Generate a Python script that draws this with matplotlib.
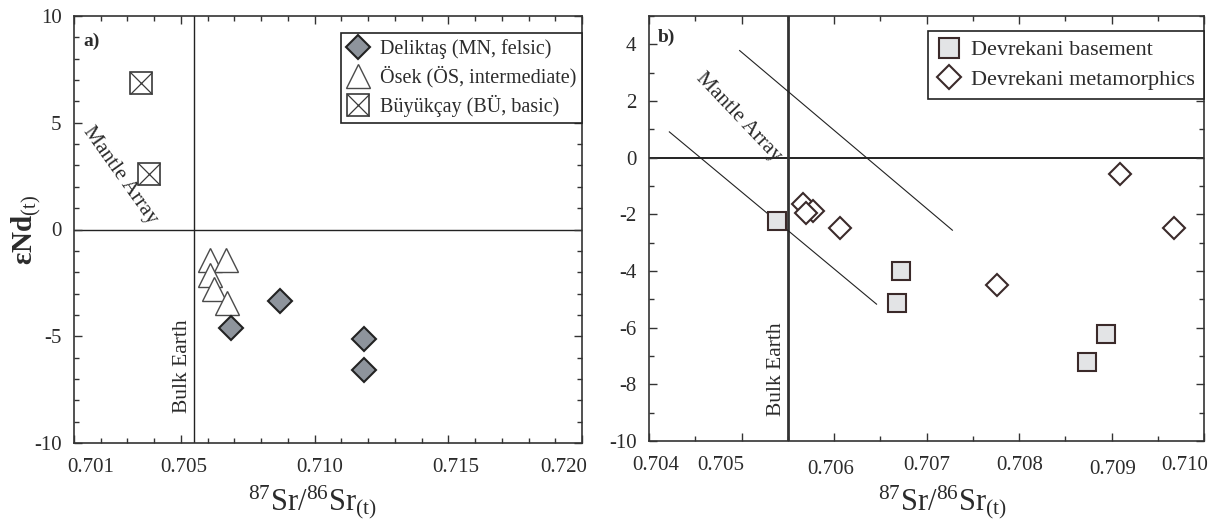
import matplotlib
matplotlib.use("Agg")
import matplotlib.pyplot as plt
import matplotlib.transforms as mtransforms
from matplotlib.legend_handler import HandlerTuple
from matplotlib.ticker import MultipleLocator, FixedLocator

plt.rcParams["font.family"] = ["Liberation Serif", "DejaVu Serif"]
plt.rcParams["mathtext.fontset"] = "custom"
plt.rcParams["mathtext.rm"] = "Liberation Serif"
plt.rcParams["mathtext.it"] = "Liberation Serif:italic"
plt.rcParams["mathtext.bf"] = "Liberation Serif:bold"
plt.rcParams["axes.unicode_minus"] = False

# ---- panel a) data ----
deliktas_sr = [0.70870, 0.70689, 0.71185, 0.71185]
deliktas_nd = [-3.37, -4.60, -5.15, -6.60]
osek_sr = [0.70608, 0.70668, 0.70609, 0.70625, 0.70672]
osek_nd = [-1.45, -1.45, -2.15, -2.80, -3.45]
buyukcay_sr = [0.70349, 0.70382]
buyukcay_nd = [6.84, 2.58]

# ---- panel b) data ----
basement_sr = [0.70538, 0.70672, 0.70668, 0.70894, 0.70874]
basement_nd = [-2.22, -3.99, -5.14, -6.22, -7.20]
meta_sr = [0.70567, 0.70577, 0.70570, 0.70607, 0.70776, 0.70909, 0.70968]
meta_nd = [-1.65, -1.88, -1.95, -2.49, -4.50, -0.59, -2.48]

# mantle array guide lines (panel b), endpoints in data units
mantle_upper_sr = [0.70498, 0.70728]
mantle_upper_nd = [3.78, -2.56]
mantle_lower_sr = [0.70422, 0.70646]
mantle_lower_nd = [0.91, -5.17]

bulk_earth_sr = 0.7055

a_xticks = [0.701, 0.705, 0.710, 0.715, 0.720]
a_xlabels = ["0.701", "0.705", "0.710", "0.715", "0.720"]
a_yticks = [-10, -5, 0, 5, 10]
b_xticks = [0.704, 0.705, 0.706, 0.707, 0.708, 0.709, 0.710]
b_xlabels = ["0.704", "0.705", "0.706", "0.707", "0.708", "0.709", "0.710"]
b_yticks = [-10, -8, -6, -4, -2, 0, 2, 4]

TXT = "#2b2b2b"
SPINE = "#333333"
DARK = "#222222"
BROWN = "#3b2a2a"

fig = plt.figure(figsize=(12.29, 5.26), dpi=100)
ax1 = fig.add_axes([74 / 1229, 83 / 526, 508 / 1229, 427 / 526])
ax2 = fig.add_axes([649 / 1229, 85 / 526, 555 / 1229, 425 / 526])


def style_axes(ax):
    for s in ax.spines.values():
        s.set_color(SPINE)
        s.set_linewidth(1.2)
    ax.tick_params(which="both", direction="in", top=True, right=True,
                   colors=SPINE, labelcolor=TXT, labelsize=15, width=1.0)
    ax.tick_params(which="major", length=6, pad=9)
    ax.tick_params(axis="x", which="major", pad=11)
    ax.tick_params(which="minor", length=3.5)


def shift_xticklabels(ax, offsets):
    for tick, (dx, dy) in zip(ax.xaxis.get_major_ticks(), offsets):
        lab = tick.label1
        lab.set_transform(lab.get_transform() + mtransforms.ScaledTranslation(
            dx / 100, dy / 100, fig.dpi_scale_trans))


# ================= panel a =================
ax1.set_xlim(0.701, 0.720)
ax1.set_ylim(-10, 10)
style_axes(ax1)
ax1.xaxis.set_major_locator(FixedLocator(a_xticks))
ax1.set_xticklabels(a_xlabels)
ax1.xaxis.set_minor_locator(MultipleLocator(0.001))
ax1.set_yticks(a_yticks)
ax1.yaxis.set_minor_locator(MultipleLocator(1))
shift_xticklabels(ax1, [(17, 0), (3, 0), (5, 0), (7, 0), (-18, 0)])

ax1.axhline(0, color=DARK, lw=1.0, zorder=1)
ax1.axvline(bulk_earth_sr, color=DARK, lw=1.0, zorder=1)

h_del, = ax1.plot(deliktas_sr, deliktas_nd, ls="none", marker="D", ms=12,
                  mfc="#8e949c", mec=DARK, mew=1.5, zorder=4)
h_os, = ax1.plot(osek_sr, osek_nd, ls="none", marker="^", ms=17,
                 mfc="white", mec="#4a4a4a", mew=1.0, zorder=3)
h_bu_sq, = ax1.plot(buyukcay_sr, buyukcay_nd, ls="none", marker="s", ms=16,
                    mfc="white", mec="#3a3a3a", mew=1.2, zorder=3)
h_bu_x, = ax1.plot(buyukcay_sr, buyukcay_nd, ls="none", marker="x", ms=16,
                   mec="#3a3a3a", mew=0.9, zorder=4)

ax1.text(0.70272, 2.55, "Mantle Array", rotation=-54.6, ha="center",
         va="center", fontsize=15.5, color=TXT, rotation_mode="anchor")
ax1.text(bulk_earth_sr - 0.00008, -8.6, "Bulk Earth", rotation=90, ha="right",
         va="bottom", fontsize=15.5, color=TXT)
ax1.text(0.018, 0.941, "a)", transform=ax1.transAxes, ha="left", va="center",
         fontsize=14, fontweight="bold", color=TXT)

leg1 = ax1.legend([h_del, h_os, (h_bu_sq, h_bu_x)],
                  ["Deliktaş (MN, felsic)", "Ösek (ÖS, intermediate)",
                   "Büyükçay (BÜ, basic)"],
                  handler_map={tuple: HandlerTuple(ndivide=1)},
                  loc="upper right", bbox_to_anchor=(1.0, 0.960),
                  borderaxespad=0, fancybox=False, framealpha=1,
                  edgecolor=DARK, fontsize=14.5, handlelength=1.1,
                  handletextpad=0.5, labelspacing=0.35, borderpad=0.3,
                  labelcolor=TXT)
leg1.get_frame().set_linewidth(1.2)

ax1.text(-0.0935, 0.5, r"$\mathbf{εNd}_{\mathrm{(t)}}$", transform=ax1.transAxes,
         rotation=90, ha="center", va="center", fontsize=21, color=TXT)
ax1.text(0.4685, -0.094, r"$^{87}\mathrm{Sr}/^{86}\mathrm{Sr}_{\mathrm{(t)}}$",
         transform=ax1.transAxes, ha="center", va="top", fontsize=22, color=TXT)

# ================= panel b =================
ax2.set_xlim(0.704, 0.710)
ax2.set_ylim(-10, 5)
style_axes(ax2)
ax2.xaxis.set_major_locator(FixedLocator(b_xticks))
ax2.set_xticklabels(b_xlabels)
ax2.xaxis.set_minor_locator(MultipleLocator(0.0005))
ax2.set_yticks(b_yticks)
ax2.yaxis.set_minor_locator(MultipleLocator(1))
shift_xticklabels(ax2, [(7, 0), (-21, 0), (-3, -4), (0, 0), (1, 0), (1, -4), (-19, 0)])

ax2.axhline(0, color=DARK, lw=1.4, zorder=1)
ax2.axvline(bulk_earth_sr, color="#333333", lw=2.0, zorder=1)
ax2.plot(mantle_upper_sr, mantle_upper_nd, color=DARK, lw=0.8, zorder=1)
ax2.plot(mantle_lower_sr, mantle_lower_nd, color=DARK, lw=0.8, zorder=1)

h_base, = ax2.plot(basement_sr, basement_nd, ls="none", marker="s", ms=13,
                   mfc="#e3e4e6", mec=BROWN, mew=1.5, zorder=3)
h_meta, = ax2.plot(meta_sr, meta_nd, ls="none", marker="D", ms=11.5,
                   mfc="white", mec=BROWN, mew=1.5, zorder=4)

ax2.text(0.704962, 1.42, "Mantle Array", rotation=-46.5, ha="center",
         va="center", fontsize=15.5, color=TXT, rotation_mode="anchor")
ax2.text(bulk_earth_sr - 0.00002, -9.1, "Bulk Earth", rotation=90, ha="right",
         va="bottom", fontsize=15.5, color=TXT)
ax2.text(0.016, 0.949, "b)", transform=ax2.transAxes, ha="left", va="center",
         fontsize=14, fontweight="bold", color=TXT)

leg2 = ax2.legend([h_base, h_meta],
                  ["Devrekani basement", "Devrekani metamorphics"],
                  loc="upper right", bbox_to_anchor=(1.0, 0.965),
                  borderaxespad=0, fancybox=False, framealpha=1,
                  edgecolor=DARK, fontsize=16, handlelength=1.1,
                  handletextpad=0.45, labelspacing=0.4, borderpad=0.4,
                  markerscale=1.1, labelcolor=TXT)
leg2.get_frame().set_linewidth(1.2)

ax2.text(0.528, -0.099, r"$^{87}\mathrm{Sr}/^{86}\mathrm{Sr}_{\mathrm{(t)}}$",
         transform=ax2.transAxes, ha="center", va="top", fontsize=22, color=TXT)

fig.savefig("out.png", dpi=100, facecolor="white")
